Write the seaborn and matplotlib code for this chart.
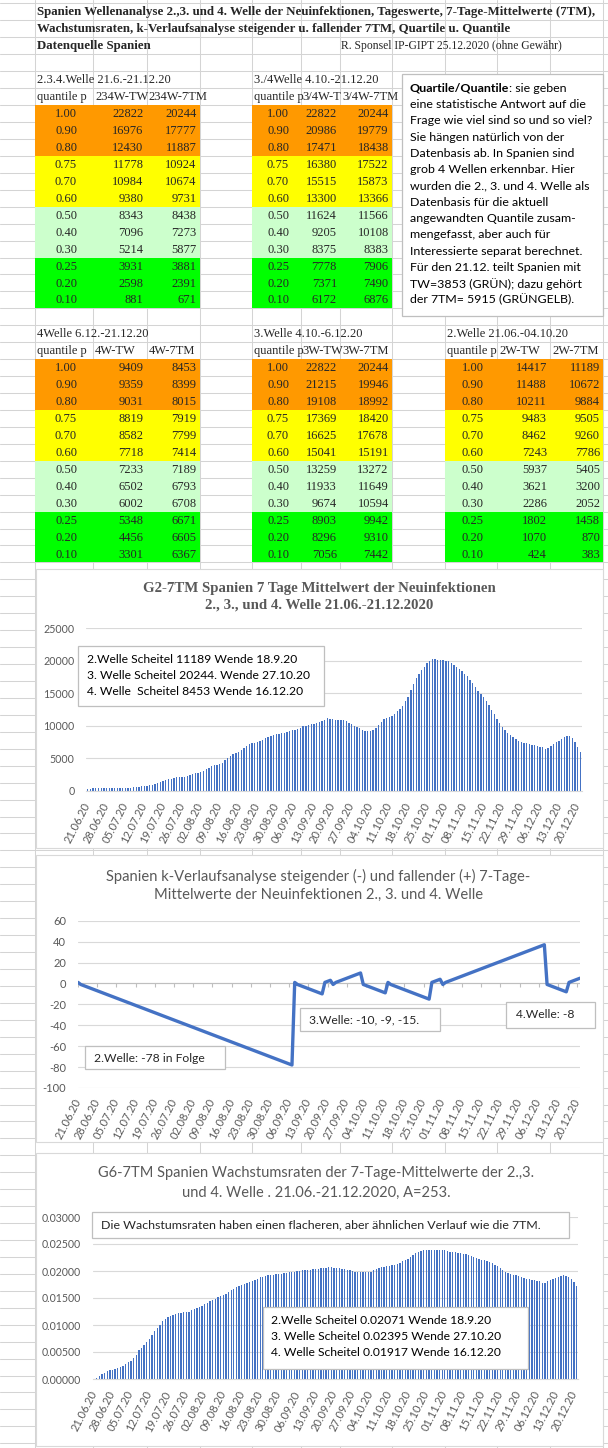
import numpy as np
import pandas as pd
import matplotlib
matplotlib.use("Agg")
import matplotlib.pyplot as plt
import seaborn as sns
from matplotlib.patches import Rectangle
from matplotlib.textpath import TextPath
from matplotlib.font_manager import FontProperties

# ------------------------------------------------------------------ data
quantile_p = [1.00, 0.90, 0.80, 0.75, 0.70, 0.60, 0.50, 0.40, 0.30, 0.25, 0.20, 0.10]

w234_tw = [22822, 16976, 12430, 11778, 10984, 9380, 8343, 7096, 5214, 3931, 2598, 881]
w234_7tm = [20244, 17777, 11887, 10924, 10674, 9731, 8438, 7273, 5877, 3881, 2391, 671]
w34_tw = [22822, 20986, 17471, 16380, 15515, 13300, 11624, 9205, 8375, 7778, 7371, 6172]
w34_7tm = [20244, 19779, 18438, 17522, 15873, 13366, 11566, 10108, 8383, 7906, 7490, 6876]
w4_tw = [9409, 9359, 9031, 8819, 8582, 7718, 7233, 6502, 6002, 5348, 4456, 3301]
w4_7tm = [8453, 8399, 8015, 7919, 7799, 7414, 7189, 6793, 6708, 6671, 6605, 6367]
w3_tw = [22822, 21215, 19108, 17369, 16625, 15041, 13259, 11933, 9674, 8903, 8296, 7056]
w3_7tm = [20244, 19946, 18992, 18420, 17678, 15191, 13272, 11649, 10594, 9942, 9310, 7442]
w2_tw = [14417, 11488, 10211, 9483, 8462, 7243, 5937, 3621, 2286, 1802, 1070, 424]
w2_7tm = [11189, 10672, 9884, 9505, 9260, 7786, 5405, 3200, 2052, 1458, 870, 383]

days = pd.date_range("2020-06-21", "2020-12-21", freq="D").strftime("%d.%m.%y").tolist()
week_ticks = ["21.06.20", "28.06.20", "05.07.20", "12.07.20", "19.07.20", "26.07.20",
              "02.08.20", "09.08.20", "16.08.20", "23.08.20", "30.08.20", "06.09.20",
              "13.09.20", "20.09.20", "27.09.20", "04.10.20", "11.10.20", "18.10.20",
              "25.10.20", "01.11.20", "08.11.20", "15.11.20", "22.11.20", "29.11.20",
              "06.12.20", "13.12.20", "20.12.20"]

# 7-Tage-Mittelwerte (7TM), 21.06.-21.12.2020
tm7 = [330, 335, 340, 345, 350, 352, 355,
       360, 365, 372, 380, 390, 400, 410,
       420, 440, 480, 520, 570, 620, 660,
       700, 760, 830, 920, 1050, 1200, 1350,
       1500, 1620, 1750, 1870, 1980, 2040, 2080,
       2100, 2150, 2250, 2400, 2550, 2700, 2800,
       2900, 3050, 3300, 3550, 3750, 3900, 4000,
       4100, 4300, 4650, 5000, 5350, 5600, 5800,
       6000, 6300, 6600, 6900, 7150, 7300, 7400,
       7500, 7650, 7850, 8050, 8250, 8400, 8550,
       8700, 8750, 8850, 8950, 9100, 9250, 9350,
       9400, 9500, 9700, 9900, 10000, 10100, 10200,
       10300, 10350, 10500, 10700, 10900, 11189, 11100,
       11000, 10950, 10950, 10900, 10850, 10700, 10450,
       10200, 10000, 9800, 9600, 9400, 9250, 9200,
       9250, 9400, 9700, 10100, 10600, 11000, 11200,
       11300, 11500, 11800, 12200, 12600, 13100, 13800,
       14500, 15500, 16500, 17300, 18000, 18600, 19100,
       19600, 20000, 20244, 20200, 20150, 20100, 20050,
       20000, 19900, 19600, 19300, 19000, 18700, 18400,
       18000, 17600, 17100, 16600, 16000, 15400, 14900,
       14400, 13800, 13200, 12500, 11800, 11100, 10400,
       9800, 9300, 8900, 8500, 8200, 7900, 7700,
       7550, 7400, 7300, 7200, 7100, 7000, 6900,
       6800, 6800, 6450, 6500, 6900, 7200, 7450,
       7700, 8000, 8300, 8453, 8400, 8100, 7500,
       6700, 5915]

# Wachstumsraten der 7TM
growth = [0.0000, 0.0002, 0.0005, 0.0009, 0.0012, 0.0014, 0.0016,
          0.0017, 0.0019, 0.0021, 0.0023, 0.0025, 0.0028, 0.0031,
          0.0034, 0.0038, 0.0045, 0.0053, 0.0058, 0.0063, 0.0069,
          0.0075, 0.0082, 0.0088, 0.0094, 0.0100, 0.0108, 0.0112,
          0.0115, 0.0117, 0.0119, 0.0121, 0.0122, 0.0123, 0.0124,
          0.0124, 0.0125, 0.0127, 0.0129, 0.0131, 0.0134, 0.0136,
          0.0138, 0.0141, 0.0144, 0.0146, 0.0148, 0.0151, 0.0154,
          0.0156, 0.0158, 0.0161, 0.0164, 0.0167, 0.0170, 0.0172,
          0.0174, 0.0176, 0.0178, 0.0180, 0.0182, 0.0184, 0.0186,
          0.0188, 0.0189, 0.0191, 0.0192, 0.0193, 0.0193, 0.0194,
          0.0194, 0.0195, 0.0196, 0.0197, 0.0198, 0.0199, 0.0199,
          0.0200, 0.0200, 0.0201, 0.0201, 0.0202, 0.0202, 0.0203,
          0.0203, 0.0204, 0.0205, 0.0206, 0.0206, 0.02071, 0.0207,
          0.0206, 0.0206, 0.0205, 0.0204, 0.0203, 0.0202, 0.0201,
          0.0200, 0.0199, 0.0199, 0.0198, 0.0198, 0.0198, 0.0198,
          0.0199, 0.0201, 0.0203, 0.0205, 0.0207, 0.0208, 0.0209,
          0.0210, 0.0211, 0.0212, 0.0213, 0.0215, 0.0218, 0.0221,
          0.0223, 0.0226, 0.0229, 0.0233, 0.0236, 0.0237, 0.0238,
          0.0238, 0.0239, 0.02395, 0.0239, 0.0239, 0.0238, 0.0238,
          0.0238, 0.0237, 0.0236, 0.0236, 0.0235, 0.0234, 0.0233,
          0.0232, 0.0231, 0.0229, 0.0228, 0.0226, 0.0224, 0.0222,
          0.0221, 0.0220, 0.0218, 0.0216, 0.0214, 0.0212, 0.0209,
          0.0206, 0.0202, 0.0198, 0.0196, 0.0194, 0.0193, 0.0192,
          0.0190, 0.0188, 0.0187, 0.0186, 0.0185, 0.0184, 0.0183,
          0.0182, 0.0181, 0.0177, 0.0178, 0.0181, 0.0184, 0.0186,
          0.0187, 0.0189, 0.0191, 0.01917, 0.0190, 0.0188, 0.0185,
          0.0180, 0.0172]

# k-Verlaufsanalyse (steigend -, fallend +)
k_trend = [1,
           -1, -2, -3, -4, -5, -6, -7, -8, -9, -10, -11, -12, -13,
           -14, -15, -16, -17, -18, -19, -20, -21, -22, -23, -24, -25, -26,
           -27, -28, -29, -30, -31, -32, -33, -34, -35, -36, -37, -38, -39,
           -40, -41, -42, -43, -44, -45, -46, -47, -48, -49, -50, -51, -52,
           -53, -54, -55, -56, -57, -58, -59, -60, -61, -62, -63, -64, -65,
           -66, -67, -68, -69, -70, -71, -72, -73, -74, -75, -76, -77, -78,
           1,
           -1, -2, -3, -4, -5, -6, -7, -8, -9, -10,
           1, 2, 3,
           -1,
           1, 2, 3, 4, 5, 6, 7, 8, 9, 10,
           -1, -2, -3, -4, -5, -6, -7, -8, -9,
           1,
           -1, -2, -3, -4, -5, -6, -7, -8, -9, -10, -11, -12, -13, -14, -15,
           1, 2, 3, 4,
           -1,
           1, 2, 3, 4, 5, 6, 7, 8, 9, 10, 11, 12, 13, 14, 15, 16, 17, 18, 19,
           20, 21, 22, 23, 24, 25, 26, 27, 28, 29, 30, 31, 32, 33, 34, 35, 36, 37,
           -1, -2, -3, -4, -5, -6, -7, -8,
           1, 2, 3, 4, 5]

n_days = len(days)
assert len(tm7) == n_days and len(growth) == n_days and len(k_trend) == n_days

# ------------------------------------------------------------------ style
sns.set_style("white")
plt.rcParams["font.family"] = ["Lato", "DejaVu Sans"]
plt.rcParams["axes.unicode_minus"] = False

W, H, DPI = 608, 1448, 100
SERIF = "Liberation Serif"
SANS = "Lato"
GRAY_TXT = "#595959"
GRID = "#D4D4D4"
CHART_GRID = "#D9D9D9"
BLUE = "#4472C4"
band_colors = ["#FF9900", "#FFFF00", "#CCFFCC", "#00FF00"]

fig = plt.figure(figsize=(W / DPI, H / DPI), dpi=DPI)


def fs(s, width_px, family=SANS, weight="normal"):
    ext = TextPath((0, 0), s, size=100,
                   prop=FontProperties(family=family, weight=weight)).get_extents()
    return 100 * width_px * 72 / (ext.width * DPI)


def px_axes(l, t, r, b, **kw):
    return fig.add_axes([l / W, 1 - b / H, (r - l) / W, (b - t) / H], **kw)


# ------------------------------------------------------------------ sheet background
bg = fig.add_axes([0, 0, 1, 1])
bg.set_xlim(0, W)
bg.set_ylim(H, 0)
bg.axis("off")

ROW0, RH = 3.4, 16.94
col_x = [35, 93, 146.5, 199.6, 251.5, 300.5, 340, 391.7, 445, 497, 550, 603]
k = 0
while ROW0 + RH * k < H:
    y = ROW0 + RH * k
    bg.plot([0, W], [y, y], color=GRID, lw=0.75, zorder=1)
    k += 1
for x in col_x:
    bg.plot([x, x], [0, H], color=GRID, lw=0.75, zorder=1)


def row_top(r):
    return ROW0 + RH * r


def row_c(r):
    return row_top(r) + RH / 2 + 0.6


# sheet title
t1 = "Spanien Wellenanalyse 2.,3. und 4. Welle der Neuinfektionen, Tageswerte, 7-Tage-Mittelwerte (7TM),"
t2 = "Wachstumsraten, k-Verlaufsanalyse steigender u. fallender 7TM, Quartile u. Quantile"
tfs = fs(t1, 556, SERIF, "bold")
bg.text(37, row_c(0), t1, family=SERIF, weight="bold", fontsize=tfs, va="center", zorder=3)
bg.text(37, row_c(1), t2, family=SERIF, weight="bold", fontsize=tfs, va="center", zorder=3)
bg.text(37, row_c(2), "Datenquelle Spanien", family=SERIF, weight="bold", fontsize=tfs,
        va="center", zorder=3)
src = "R. Sponsel IP-GIPT 25.12.2020 (ohne Gewähr)"
bg.text(341, row_c(2), src, family=SERIF, fontsize=fs(src, 220, SERIF), va="center", zorder=3)

TFS = fs("22822", 30, SERIF)


def draw_table(cols, r0, title, heads, tw, tm):
    bg.text(cols[0] + 2, row_c(r0), title, family=SERIF, fontsize=TFS, va="center", zorder=3)
    for j, h in enumerate(heads):
        bg.text(cols[j] + 2, row_c(r0 + 1), h, family=SERIF, fontsize=TFS,
                va="center", zorder=3)
    for i, q in enumerate(quantile_p):
        r = r0 + 2 + i
        bg.add_patch(Rectangle((cols[0], row_top(r)), cols[3] - cols[0], RH,
                               fc=band_colors[i // 3], ec="none", zorder=2))
        bg.text((cols[0] + cols[1]) / 2 + 2, row_c(r), f"{q:.2f}", family=SERIF,
                fontsize=TFS, ha="center", va="center", zorder=3)
        bg.text(cols[2] - 3, row_c(r), str(tw[i]), family=SERIF, fontsize=TFS,
                ha="right", va="center", zorder=3)
        bg.text(cols[3] - 3, row_c(r), str(tm[i]), family=SERIF, fontsize=TFS,
                ha="right", va="center", zorder=3)


# header texts as far as the sheet shows them (the rest is cut by the next cell)
draw_table(col_x[0:4], 4, "2.3.4.Welle 21.6.-21.12.20",
           ["quantile p", "234W-TW", "234W-7TM"], w234_tw, w234_7tm)
draw_table(col_x[4:8], 4, "3./4Welle 4.10.-21.12.20",
           ["quantile p", "3/4W-T", "3/4W-7TM"], w34_tw, w34_7tm)
draw_table(col_x[0:4], 19, "4Welle 6.12.-21.12.20",
           ["quantile p", "4W-TW", "4W-7TM"], w4_tw, w4_7tm)
draw_table(col_x[4:8], 19, "3.Welle 4.10.-6.12.20",
           ["quantile p", "3W-TW", "3W-7TM"], w3_tw, w3_7tm)
draw_table(col_x[8:12], 19, "2.Welle 21.06.-04.10.20",
           ["quantile p", "2W-TW", "2W-7TM"], w2_tw, w2_7tm)

# chart panels
for (l, t, r, b) in [(35.5, 569.3, 603, 848), (35.5, 855, 603, 1142), (35.5, 1152.7, 603, 1446)]:
    bg.add_patch(Rectangle((l, t), r - l, b - t, fc="white", ec=CHART_GRID, lw=0.8, zorder=4))

# ------------------------------------------------------------------ chart helpers
XFS = fs("21.06.20", 43, SANS)


def style_axes(ax, yfs, bottom_spine=True):
    ax.set_facecolor("none")
    for s in ["left", "right", "top"]:
        ax.spines[s].set_visible(False)
    ax.spines["bottom"].set_visible(bottom_spine)
    ax.spines["bottom"].set_color(CHART_GRID)
    ax.spines["bottom"].set_linewidth(0.8)
    ax.yaxis.grid(True, color=CHART_GRID, lw=0.8)
    ax.xaxis.grid(False)
    ax.set_axisbelow(True)
    ax.set_xlabel("")
    ax.set_ylabel("")
    ax.tick_params(axis="y", length=0, labelsize=yfs, labelcolor=GRAY_TXT, pad=8.5)
    ax.set_xticks(range(0, n_days, 7))
    ax.set_xticklabels(week_ticks, rotation=63, ha="right", va="center",
                       rotation_mode="anchor", fontsize=XFS, color=GRAY_TXT)


# ------------------------------------------------------------------ chart 1: 7TM
ax1 = px_axes(86.4, 628.3, 581.8, 790.7, zorder=5)
sns.barplot(x=days, y=tm7, color=BLUE, saturation=1, width=0.5, errorbar=None,
            linewidth=0, ax=ax1)
ax1.set_xlim(-0.5, n_days - 0.5)
ax1.set_ylim(0, 25000)
ax1.set_yticks(range(0, 25001, 5000))
style_axes(ax1, fs("25000", 30))
ax1.tick_params(axis="x", length=4, color=CHART_GRID, pad=5)

# ------------------------------------------------------------------ chart 2: k-Verlauf
ax2 = px_axes(78, 920.7, 580, 1088, zorder=5)
sns.lineplot(x=np.arange(n_days), y=k_trend, color=BLUE, lw=2.4, ax=ax2)
ax2.set_xlim(0, n_days - 1)
ax2.set_ylim(-100, 60)
ax2.set_yticks(range(-100, 61, 20))
style_axes(ax2, fs("-100", 22.5), bottom_spine=False)
ax2.tick_params(axis="x", length=0, pad=8)
ax2.axhline(0, color="#BFBFBF", lw=0.8, zorder=1)
ax2.vlines(range(0, n_days, 7), -3.5, 0, color="#BFBFBF", lw=0.8, zorder=1)

# ------------------------------------------------------------------ chart 3: growth rates
ax3 = px_axes(92.7, 1217, 578, 1379, zorder=5)
sns.barplot(x=days, y=growth, color=BLUE, saturation=1, width=0.5, errorbar=None,
            linewidth=0, ax=ax3)
ax3.set_xlim(-0.5, n_days - 0.5)
ax3.set_ylim(0, 0.03)
ax3.set_yticks(np.arange(0, 0.0301, 0.005))
ax3.set_yticklabels([f"{v:.5f}" for v in np.arange(0, 0.0301, 0.005)])
style_axes(ax3, fs("0.03000", 38.5))
ax3.tick_params(axis="x", length=4, color=CHART_GRID, pad=5)

# ------------------------------------------------------------------ overlay (titles, boxes)
ov = fig.add_axes([0, 0, 1, 1], zorder=20)
ov.set_xlim(0, W)
ov.set_ylim(H, 0)
ov.axis("off")
ov.patch.set_alpha(0)


def box(l, t, r, b):
    ov.add_patch(Rectangle((l, t), r - l, b - t, fc="white", ec="#BFBFBF", lw=0.9))


def lines_text(x, y0, dy, lines, size, color="black", family=SANS):
    for i, s in enumerate(lines):
        ov.text(x, y0 + i * dy, s, fontsize=size, family=family, color=color, va="center")


# Quartile box
box(402, 74, 603, 316)
qlines = ["eine statistische Antwort auf die",
          "Frage wie viel sind so und so viel?",
          "Sie hängen natürlich von der",
          "Datenbasis ab. In Spanien sind",
          "grob 4 Wellen erkennbar. Hier",
          "wurden die 2., 3. und 4. Welle als",
          "Datenbasis für die aktuell",
          "angewandten Quantile zusam-",
          "mengefasst, aber auch für",
          "Interessierte separat berechnet.",
          "Für den 21.12. teilt Spanien mit",
          "TW=3853 (GRÜN); dazu gehört",
          "der 7TM= 5915 (GRÜNGELB)."]
QFS = fs("Frage wie viel sind so und so viel?", 182)
qb = ov.text(410, 88.3, "Quartile/Quantile", fontsize=QFS, weight="bold", color="black",
             va="center")
renderer = fig.canvas.get_renderer()
wb = qb.get_window_extent(renderer).width
ov.text(410 + wb, 88.3, ": sie geben", fontsize=QFS, color="black", va="center")
lines_text(410, 88.3 + 16.28, 16.28, qlines, QFS)

# chart 1 title + box
c1a = "G2-7TM Spanien 7 Tage Mittelwert der Neuinfektionen"
c1fs = fs(c1a, 352, SERIF, "bold")
ov.text(319, 588.3, c1a, fontsize=c1fs, family=SERIF, weight="bold", color=GRAY_TXT,
        ha="center", va="center")
ov.text(319, 605.5, "2., 3., und 4. Welle 21.06.-21.12.2020", fontsize=c1fs, family=SERIF,
        weight="bold", color=GRAY_TXT, ha="center", va="center")
box(78, 645.7, 324, 706)
b1 = ["2.Welle Scheitel 11189 Wende 18.9.20",
      "3. Welle Scheitel 20244. Wende 27.10.20",
      "4. Welle  Scheitel 8453 Wende 16.12.20"]
lines_text(87, 659.5, 16, b1, fs(b1[1], 222))

# chart 2 title + boxes
c2a = "Spanien k-Verlaufsanalyse steigender (-) und fallender (+) 7-Tage-"
c2fs = fs(c2a, 422)
ov.text(318.5, 876, c2a, fontsize=c2fs, color=GRAY_TXT, ha="center", va="center")
ov.text(318.5, 895, "Mittelwerte der Neuinfektionen 2., 3. und 4. Welle", fontsize=c2fs,
        color=GRAY_TXT, ha="center", va="center")
kfs = fs("2.Welle: -78 in Folge", 110)
box(85, 1046, 225, 1069)
ov.text(94.5, 1058, "2.Welle: -78 in Folge", fontsize=kfs, va="center")
box(300, 1007.7, 440, 1031.3)
ov.text(309, 1020, "3.Welle: -10, -9, -15.", fontsize=kfs, va="center")
box(506, 1001.7, 595, 1028.3)
ov.text(516, 1015, "4.Welle: -8", fontsize=kfs, va="center")

# chart 3 title + boxes
c3a = "G6-7TM Spanien Wachstumsraten der 7-Tage-Mittelwerte der 2.,3."
c3fs = fs(c3a, 433)
ov.text(316.5, 1173.3, c3a, fontsize=c3fs, color=GRAY_TXT, ha="center", va="center")
ov.text(316.5, 1192.7, "und 4. Welle . 21.06.-21.12.2020, A=253.", fontsize=c3fs,
        color=GRAY_TXT, ha="center", va="center")
box(91.5, 1211.7, 569, 1238.3)
wtxt = "Die Wachstumsraten haben einen flacheren, aber ähnlichen Verlauf wie die 7TM."
ov.text(101, 1224.5, wtxt, fontsize=fs(wtxt, 439), va="center")
box(263, 1307.3, 527.6, 1368.7)
b3 = ["2.Welle Scheitel 0.02071 Wende 18.9.20",
      "3. Welle Scheitel 0.02395 Wende 27.10.20",
      "4. Welle Scheitel 0.01917 Wende 16.12.20"]
lines_text(271.4, 1320.7, 16, b3, fs(b3[0], 219))

fig.savefig("out.png", dpi=DPI)
